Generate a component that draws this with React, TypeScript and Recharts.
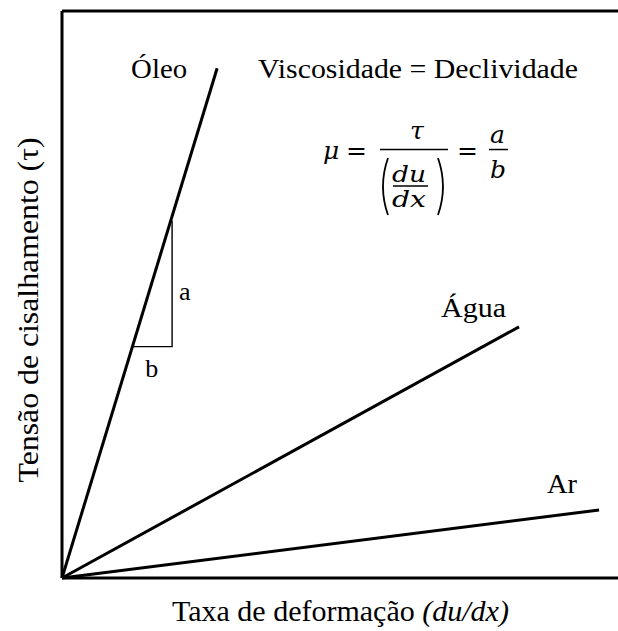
import type { ReactNode } from "react"
import {
  ComposedChart,
  Label,
  Line,
  ReferenceDot,
  ReferenceLine,
  XAxis,
  YAxis,
} from "recharts"

// shear stress vs. strain rate, one straight line per fluid
const oleo = [
  { x: 0, y: 0 },
  { x: 27.9, y: 89.9 },
]
const agua = [
  { x: 0, y: 0 },
  { x: 82.2, y: 44.3 },
]
const ar = [
  { x: 0, y: 0 },
  { x: 96.6, y: 12.0 },
]
// slope triangle on the oil line
const slopeTriangle = [
  { x: 12.7, y: 40.8 },
  { x: 19.8, y: 40.8 },
  { x: 19.8, y: 63.0 },
]

const xDomain = [0, 100]
const yDomain = [0, 100]

const serif = "Liberation Serif, Times New Roman, serif"
const mathFont = "DejaVu Serif, serif"

type LabelProps = { viewBox?: { x: number; y: number; width?: number; height?: number } }

const at =
  (render: (x: number, y: number) => ReactNode) =>
  (props: LabelProps) => {
    const vb = props.viewBox
    if (!vb) return null
    return render(vb.x + (vb.width ?? 0) / 2, vb.y + (vb.height ?? 0) / 2)
  }

const plainText = (
  dx: number,
  dy: number,
  text: string,
  size: number,
  length?: number
) =>
  at((x, y) => (
    <text
      x={x + dx}
      y={y + dy}
      style={{ fontFamily: serif, fontSize: size }}
      fill="#000"
      textLength={length}
      lengthAdjust={length ? "spacingAndGlyphs" : undefined}
    >
      {text}
    </text>
  ))

const math = (size: number, italic = true) => ({
  fontFamily: mathFont,
  fontSize: size,
  fontStyle: italic ? "italic" : "normal",
})

const Formula = at((x, y) => (
  <g transform={`translate(${x},${y})`} fill="#000">
    <text x={-57} y={9} style={math(25)}>
      μ
    </text>
    <text x={-34} y={9} style={math(25, false)}>
      =
    </text>
    <line x1={0} y1={0} x2={68} y2={0} stroke="#000" strokeWidth={1.5} />
    <text x={30} y={-11} style={math(25)}>
      τ
    </text>
    <path d="M 8 8.5 Q -2 37 8 65.5" fill="none" stroke="#000" strokeWidth={1.8} />
    <text x={12} y={32} style={math(22)} textLength={34} lengthAdjust="spacingAndGlyphs">
      du
    </text>
    <line x1={13} y1={36.5} x2={48} y2={36.5} stroke="#000" strokeWidth={1.4} />
    <text x={12} y={57} style={math(22)} textLength={34} lengthAdjust="spacingAndGlyphs">
      dx
    </text>
    <path d="M 58 8.5 Q 68 37 58 65.5" fill="none" stroke="#000" strokeWidth={1.8} />
    <text x={77} y={9} style={math(25, false)}>
      =
    </text>
    <text x={110} y={-7} style={math(25)}>
      a
    </text>
    <line x1={109} y1={0} x2={128} y2={0} stroke="#000" strokeWidth={1.5} />
    <text x={110} y={28} style={math(25)}>
      b
    </text>
  </g>
))

const XTitle = (props: LabelProps) => {
  const vb = props.viewBox
  if (!vb) return null
  return (
    <text
      x={vb.x + 110}
      y={vb.y + 43}
      style={{ fontFamily: serif, fontSize: 30 }}
      fill="#000"
    >
      Taxa de deformação <tspan style={{ fontStyle: "italic" }}>(du/dx)</tspan>
    </text>
  )
}

const YTitle = (props: LabelProps) => {
  const vb = props.viewBox
  if (!vb) return null
  const cx = 38
  const cy = vb.y + 299
  return (
    <text
      x={cx}
      y={cy}
      transform={`rotate(-90 ${cx} ${cy})`}
      textAnchor="middle"
      style={{ fontFamily: serif, fontSize: 30 }}
      fill="#000"
      textLength={345}
      lengthAdjust="spacingAndGlyphs"
    >
      Tensão de cisalhamento (τ)
    </text>
  )
}

const frame = { stroke: "#000", strokeWidth: 3 }

export default function App() {
  return (
    <div style={{ position: "absolute", left: 0, top: 0, background: "#fff" }}>
      <ComposedChart
        width={618}
        height={631}
        margin={{ top: 11, right: 0, bottom: 23, left: 2 }}
      >
        <XAxis
          type="number"
          dataKey="x"
          domain={xDomain}
          height={30}
          tick={false}
          tickLine={false}
          axisLine={false}
        >
          <Label content={XTitle} />
        </XAxis>
        <YAxis
          type="number"
          domain={yDomain}
          width={60}
          tick={false}
          tickLine={false}
          axisLine={false}
        >
          <Label content={YTitle} />
        </YAxis>
        {/* open frame: left, bottom and top edges */}
        <ReferenceLine
          segment={[
            { x: 0, y: 0 },
            { x: 0, y: 100 },
          ]}
          {...frame}
        />
        <ReferenceLine
          segment={[
            { x: 0, y: 0 },
            { x: 100, y: 0 },
          ]}
          {...frame}
        />
        <ReferenceLine
          segment={[
            { x: 0, y: 100 },
            { x: 100, y: 100 },
          ]}
          {...frame}
        />

        <Line
          data={oleo}
          dataKey="y"
          type="linear"
          stroke="#000"
          strokeWidth={3}
          dot={false}
          activeDot={false}
          isAnimationActive={false}
        />
        <Line
          data={agua}
          dataKey="y"
          type="linear"
          stroke="#000"
          strokeWidth={3}
          dot={false}
          activeDot={false}
          isAnimationActive={false}
        />
        <Line
          data={ar}
          dataKey="y"
          type="linear"
          stroke="#000"
          strokeWidth={3}
          dot={false}
          activeDot={false}
          isAnimationActive={false}
        />
        <Line
          data={slopeTriangle}
          dataKey="y"
          type="linear"
          stroke="#000"
          strokeWidth={1.4}
          dot={false}
          activeDot={false}
          isAnimationActive={false}
        />

        <ReferenceDot
          x={oleo[1].x}
          y={oleo[1].y}
          r={0}
          fill="none"
          stroke="none"
          label={plainText(-86, 10, "Óleo", 28, 56)}
        />
        <ReferenceDot
          x={agua[1].x}
          y={agua[1].y}
          r={0}
          fill="none"
          stroke="none"
          label={plainText(-78, -10, "Água", 28, 65)}
        />
        <ReferenceDot
          x={ar[1].x}
          y={ar[1].y}
          r={0}
          fill="none"
          stroke="none"
          label={plainText(-52, -17, "Ar", 28, 30)}
        />
        <ReferenceDot
          x={slopeTriangle[2].x}
          y={(slopeTriangle[1].y + slopeTriangle[2].y) / 2}
          r={0}
          fill="none"
          stroke="none"
          label={plainText(7, 16, "a", 26)}
        />
        <ReferenceDot
          x={(slopeTriangle[0].x + slopeTriangle[1].x) / 2}
          y={slopeTriangle[0].y}
          r={0}
          fill="none"
          stroke="none"
          label={plainText(-7, 30, "b", 26)}
        />
        <ReferenceDot
          x={35.25}
          y={88.18}
          r={0}
          fill="none"
          stroke="none"
          label={plainText(0, 0, "Viscosidade = Declividade", 28, 320)}
        />
        <ReferenceDot
          x={57.19}
          y={75.57}
          r={0}
          fill="none"
          stroke="none"
          label={Formula}
        />
      </ComposedChart>
    </div>
  )
}
